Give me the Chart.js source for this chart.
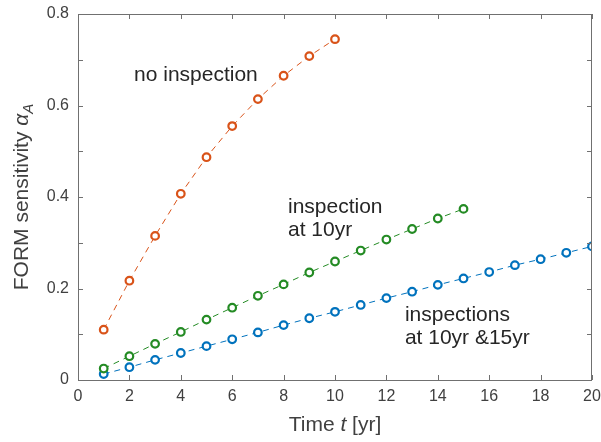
<!DOCTYPE html>
<html>
<head>
<meta charset="utf-8">
<script src="https://cdn.jsdelivr.net/npm/chart.js@4/dist/chart.umd.min.js"></script>
<style>
  html, body { margin: 0; padding: 0; background: #fff; }
  #wrap { width: 601px; height: 442px; }
</style>
</head>
<body>
<div id="wrap"><canvas id="chart" width="601" height="442"></canvas></div>
<script>
// values
const yearsNoInsp = [1, 2, 3, 4, 5, 6, 7, 8, 9, 10];
const alphaNoInsp = [0.110, 0.217, 0.315, 0.407, 0.487, 0.555, 0.614, 0.665, 0.708, 0.745];

const yearsInsp10 = [1, 2, 3, 4, 5, 6, 7, 8, 9, 10, 11, 12, 13, 14, 15];
const alphaInsp10 = [0.025, 0.052, 0.079, 0.105, 0.132, 0.158, 0.184, 0.209, 0.235, 0.259, 0.283, 0.307, 0.330, 0.353, 0.374];

const yearsInsp1015 = [1, 2, 3, 4, 5, 6, 7, 8, 9, 10, 11, 12, 13, 14, 15, 16, 17, 18, 19, 20];
const alphaInsp1015 = [0.013, 0.028, 0.044, 0.059, 0.074, 0.089, 0.104, 0.120, 0.135, 0.149,
                       0.164, 0.179, 0.193, 0.208, 0.222, 0.236, 0.251, 0.264, 0.278, 0.292];

const xTicks = [0, 2, 4, 6, 8, 10, 12, 14, 16, 18, 20];
const yTicks = [0, 0.2, 0.4, 0.6, 0.8];
const yMinorTicks = [0, 0.1, 0.2, 0.3, 0.4, 0.5, 0.6, 0.7, 0.8];

const seriesNames = ['no inspection', 'inspection at 10yr', 'inspections at 10yr &15yr'];
const seriesColors = ['#D95319', '#248B24', '#0072BD'];

const FONT = '"Liberation Sans", Arial, Helvetica, sans-serif';
const AXIS_COLOR = '#707070';
const LABEL_COLOR = '#404040';

function toPoints(xs, ys) {
  return xs.map((x, i) => ({ x: x, y: ys[i] }));
}

function makeSet(i, xs, ys) {
  return {
    label: seriesNames[i],
    data: toPoints(xs, ys),
    showLine: true,
    borderColor: seriesColors[i],
    borderWidth: 1,
    borderDash: [6, 5],
    pointRadius: 3.8,
    pointBorderWidth: 2.2,
    pointBackgroundColor: '#ffffff',
    pointBorderColor: seriesColors[i],
    pointHoverRadius: 3.8
  };
}

// box, inward ticks, axis titles and the in-plot text
const decorations = {
  id: 'decorations',
  afterDraw(chart) {
    const ctx = chart.ctx;
    const a = chart.chartArea;
    const xs = chart.scales.x;
    const ys = chart.scales.y;
    ctx.save();

    ctx.strokeStyle = AXIS_COLOR;
    ctx.lineWidth = 1;
    ctx.strokeRect(Math.round(a.left) + 0.5, Math.round(a.top) + 0.5,
                   Math.round(a.right - a.left) - 1, Math.round(a.bottom - a.top));

    const tl = 5;
    ctx.beginPath();
    xTicks.forEach(v => {
      const px = Math.round(xs.getPixelForValue(v)) + 0.5;
      ctx.moveTo(px, a.bottom); ctx.lineTo(px, a.bottom - tl);
      ctx.moveTo(px, a.top); ctx.lineTo(px, a.top + tl);
    });
    yMinorTicks.forEach(v => {
      const py = Math.round(ys.getPixelForValue(v)) + 0.5;
      ctx.moveTo(a.left, py); ctx.lineTo(a.left + tl, py);
      ctx.moveTo(a.right, py); ctx.lineTo(a.right - tl, py);
    });
    ctx.stroke();

    // x title: Time t [yr]
    ctx.fillStyle = LABEL_COLOR;
    ctx.textBaseline = 'alphabetic';
    const f1 = '21px ' + FONT;
    const f2 = 'italic 21px ' + FONT;
    const parts = [['Time ', f1], ['t', f2], [' [yr]', f1]];
    let total = 0;
    parts.forEach(p => { ctx.font = p[1]; total += ctx.measureText(p[0]).width; });
    let x0 = (a.left + a.right) / 2 - total / 2;
    parts.forEach(p => {
      ctx.font = p[1];
      ctx.textAlign = 'left';
      ctx.fillText(p[0], x0, 431);
      x0 += ctx.measureText(p[0]).width;
    });

    // y title: FORM sensitivity alpha_A
    ctx.save();
    ctx.translate(28, (a.top + a.bottom) / 2);
    ctx.rotate(-Math.PI / 2);
    ctx.font = f1;
    const main = 'FORM sensitivity ';
    const wMain = ctx.measureText(main).width;
    ctx.font = f2;
    const wAlpha = ctx.measureText('α').width;
    ctx.font = 'italic 15px ' + FONT;
    const wSub = ctx.measureText('A').width;
    let s = -(wMain + wAlpha + wSub) / 2;
    ctx.textAlign = 'left';
    ctx.font = f1;
    ctx.fillText(main, s, 0);
    s += wMain;
    ctx.font = f2;
    ctx.fillText('α', s, 0);
    s += wAlpha;
    ctx.font = 'italic 15px ' + FONT;
    ctx.fillText('A', s, 5);
    ctx.restore();

    // annotations anchored in data coordinates
    ctx.fillStyle = '#262626';
    ctx.font = '21px ' + FONT;
    ctx.textAlign = 'left';
    ctx.textBaseline = 'middle';
    const notes = [
      ['no inspection', 2.18, 0.667],
      ['inspection', 8.17, 0.378],
      ['at 10yr', 8.17, 0.327],
      ['inspections', 12.72, 0.142],
      ['at 10yr &15yr', 12.72, 0.092]
    ];
    notes.forEach(n => {
      ctx.fillText(n[0], xs.getPixelForValue(n[1]), ys.getPixelForValue(n[2]));
    });
    ctx.restore();
  }
};

new Chart(document.getElementById('chart'), {
  type: 'scatter',
  data: {
    datasets: [
      makeSet(0, yearsNoInsp, alphaNoInsp),
      makeSet(1, yearsInsp10, alphaInsp10),
      makeSet(2, yearsInsp1015, alphaInsp1015)
    ]
  },
  options: {
    responsive: false,
    animation: false,
    events: [],
    layout: { padding: { top: 14, right: 9, left: 0, bottom: 0 } },
    plugins: {
      legend: { display: false },
      tooltip: { enabled: false }
    },
    scales: {
      x: {
        type: 'linear',
        min: 0,
        max: 20,
        afterFit: s => { s.height = 62; s.paddingLeft = 0; s.paddingRight = 0; },
        afterBuildTicks: s => { s.ticks = xTicks.map(v => ({ value: v })); },
        grid: { display: false, drawTicks: false },
        border: { display: false },
        ticks: {
          padding: 7,
          color: LABEL_COLOR,
          font: { family: FONT, size: 16 },
          maxRotation: 0,
          callback: v => String(v)
        }
      },
      y: {
        type: 'linear',
        min: 0,
        max: 0.8,
        afterFit: s => { s.width = 78; s.paddingTop = 0; s.paddingBottom = 0; },
        afterBuildTicks: s => { s.ticks = yTicks.map(v => ({ value: v })); },
        grid: { display: false, drawTicks: false },
        border: { display: false },
        ticks: {
          padding: 9,
          color: LABEL_COLOR,
          font: { family: FONT, size: 16 },
          callback: v => (v === 0 ? '0' : v.toFixed(1))
        }
      }
    }
  },
  plugins: [decorations]
});
</script>
</body>
</html>
